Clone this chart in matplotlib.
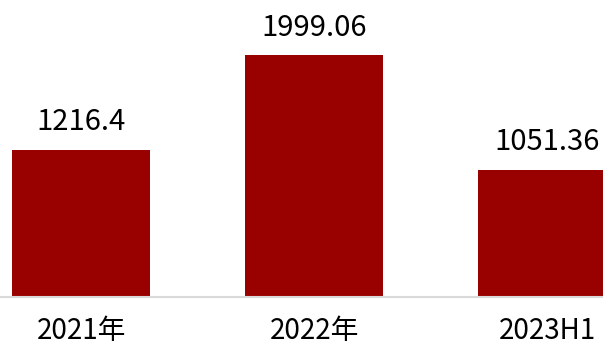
import matplotlib.pyplot as plt

plt.rcParams['font.family'] = ['Noto Sans CJK SC', 'DejaVu Sans']

categories = ["2021年", "2022年", "2023H1"]
values = [1216.4, 1999.06, 1051.36]
value_labels = ["1216.4", "1999.06", "1051.36"]

fig = plt.figure(figsize=(6.03, 3.48), dpi=100)
ax = fig.add_axes([0, 51 / 348, 1, 297 / 348])

x = list(range(len(categories)))
ax.bar(x, values, width=0.592, color="#990000")

for xi, v, lab in zip(x, values, value_labels):
    ax.annotate(lab, (xi, v), xytext=(0, 9), textcoords="offset points",
                ha="center", va="bottom", fontsize=21)

ax.set_xlim(-0.348, 2.24)
ax.set_ylim(0, 2455)
ax.set_xticks(x)
ax.set_xticklabels(categories, fontsize=20)
ax.tick_params(axis="x", length=0, pad=14)
ax.set_yticks([])

for s in ["top", "left", "right"]:
    ax.spines[s].set_visible(False)
ax.spines["bottom"].set_color("#d9d9d9")
ax.spines["bottom"].set_linewidth(1.5)

fig.savefig("out.png", dpi=100)
